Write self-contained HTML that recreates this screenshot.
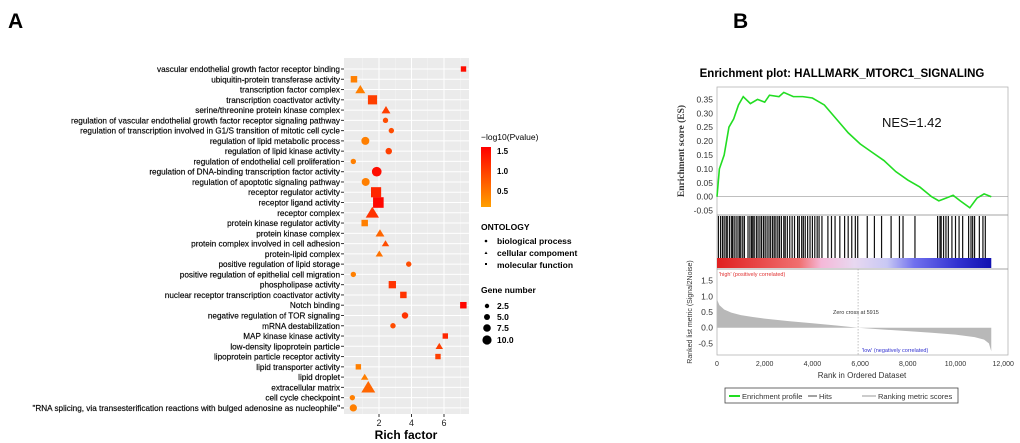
<!DOCTYPE html>
<html><head><meta charset="utf-8"><style>
body{margin:0;background:#fff;}
svg{display:block;font-family:"Liberation Sans",Arial,sans-serif;}
</style></head><body>
<svg id="s" width="1020" height="443" viewBox="0 0 1020 443">
<text x="8" y="28" font-size="21" font-weight="bold">A</text>
<text x="733" y="28" font-size="21" font-weight="bold">B</text>
<g id="A"></g>
<g id="B"></g>
</svg>
<script>
const terms=["vascular endothelial growth factor receptor binding","ubiquitin-protein transferase activity","transcription factor complex","transcription coactivator activity","serine/threonine protein kinase complex","regulation of vascular endothelial growth factor receptor signaling pathway","regulation of transcription involved in G1/S transition of mitotic cell cycle","regulation of lipid metabolic process","regulation of lipid kinase activity","regulation of endothelial cell proliferation","regulation of DNA-binding transcription factor activity","regulation of apoptotic signaling pathway","receptor regulator activity","receptor ligand activity","receptor complex","protein kinase regulator activity","protein kinase complex","protein complex involved in cell adhesion","protein-lipid complex","positive regulation of lipid storage","positive regulation of epithelial cell migration","phospholipase activity","nuclear receptor transcription coactivator activity","Notch binding","negative regulation of TOR signaling","mRNA destabilization","MAP kinase kinase activity","low-density lipoprotein particle","lipoprotein particle receptor activity","lipid transporter activity","lipid droplet","extracellular matrix","cell cycle checkpoint","\"RNA splicing, via transesterification reactions with bulged adenosine as nucleophile\""];
const richFactor=[7.2,0.46,0.85,1.6,2.43,2.4,2.76,1.16,2.6,0.42,1.86,1.18,1.82,1.96,1.59,1.12,2.06,2.4,2.02,3.83,0.42,2.82,3.5,7.19,3.6,2.86,6.08,5.71,5.63,0.73,1.12,1.34,0.36,0.42];
const geneNum=[1,2,3,6,2,1,1,4,2,1,7,4,8,9,7,2,2,1,1,1,1,3,2,2,2,1,1,1,1,1,1,8,1,3];
const logP=[1.4,0.5,0.5,1.0,1.0,0.9,0.9,0.5,1.0,0.5,1.4,0.5,1.2,1.45,1.1,0.5,0.7,0.9,0.6,0.9,0.5,1.1,1.1,1.45,1.1,0.9,1.2,1.0,1.0,0.5,0.5,0.7,0.5,0.5];
const ontology=["m","m","c","m","c","b","b","b","b","b","b","b","m","m","c","m","c","c","c","b","b","m","m","m","b","b","m","c","m","m","c","c","b","b"];
const xTicks=[2,4,6];
const esRank=[0,100,300,500,700,900,1100,1400,1700,2000,2200,2600,2800,3200,3600,4000,4500,5000,5500,6000,6500,7000,7500,8000,8500,9000,9300,9600,9900,10200,10600,10900,11200,11500];
const esVal=[0,0.1,0.15,0.25,0.28,0.33,0.36,0.335,0.35,0.34,0.365,0.36,0.375,0.36,0.36,0.355,0.33,0.28,0.23,0.19,0.16,0.13,0.09,0.06,0.035,0.0,-0.015,-0.005,0.005,-0.015,-0.04,-0.005,0.01,0];
const hits=[60,150,230,300,380,430,520,600,650,720,800,880,950,1000,1080,1150,1300,1380,1450,1500,1560,1650,1720,1800,1870,1950,2020,2100,2180,2250,2330,2400,2470,2550,2620,2700,2800,2860,2950,3050,3150,3250,3380,3450,3550,3620,3700,3800,3900,4000,4100,4200,4280,4400,4650,4800,4950,5150,5350,5500,5650,5800,5900,6300,6600,6900,7300,7650,7800,8300,9250,9350,9400,9500,9600,9700,9850,10000,10150,10300,10550,10650,10720,10800,11000,11150,11250];
const metricRank=[0,100,300,600,1000,1500,2000,3000,4000,5000,5915,7000,8000,9000,10000,10800,11200,11400,11500];
const metricVal=[0.9,0.72,0.58,0.48,0.4,0.34,0.29,0.21,0.14,0.07,0,-0.06,-0.11,-0.16,-0.22,-0.3,-0.38,-0.5,-0.75];
const esTicks=[0.35,0.30,0.25,0.20,0.15,0.10,0.05,0.00,-0.05];
const mTicks=[1.5,1.0,0.5,0.0,-0.5];
const rTicks=[0,2000,4000,6000,8000,10000,12000];

const NS="http://www.w3.org/2000/svg";
function mk(p,t,a,txt){const e=document.createElementNS(NS,t);for(const k in a)e.setAttribute(k,a[k]);if(txt!==undefined)e.textContent=txt;p.appendChild(e);return e;}
const A=document.getElementById('A');
const px0=344,px1=469,py0=58,py1=414;
const X=v=>346.5+v*16.25, Y=i=>69+i*10.27;
const col=v=>{const t=Math.max(0,Math.min(1,(v-0.2)/1.3));const g=Math.round(165*(1-t));return `rgb(255,${g},0)`;};
const R=n=>1.4+Math.sqrt(n)*1.3;
let bg=mk(A,'rect',{x:px0,y:py0,width:px1-px0,height:py1-py0,fill:'#ebebeb'});

[1,3,5,7].forEach(v=>mk(A,'line',{x1:X(v),x2:X(v),y1:py0,y2:py1,stroke:'#f5f5f5','stroke-width':0.5}));
xTicks.forEach(v=>{mk(A,'line',{x1:X(v),x2:X(v),y1:py0,y2:py1,stroke:'#fff','stroke-width':1});
 mk(A,'line',{x1:X(v),x2:X(v),y1:py1,y2:py1+3,stroke:'#333'});
 const t=mk(A,'text',{x:X(v),y:py1+12,'font-size':9,'text-anchor':'middle',fill:'#222'},v);
 });
terms.forEach((s,i)=>{mk(A,'line',{x1:px0,x2:px1,y1:Y(i),y2:Y(i),stroke:'#fff','stroke-width':1});
 mk(A,'line',{x1:px0-3,x2:px0,y1:Y(i),y2:Y(i),stroke:'#333'});
 const t=mk(A,'text',{x:px0-4,y:Y(i)+3,'font-size':8.2,'text-anchor':'end',fill:'#000',stroke:'#000','stroke-width':0.15},s);
 });
terms.forEach((s,i)=>{const cx=X(richFactor[i]),cy=Y(i),r=R(geneNum[i]),c=col(logP[i]);let e;
 if(ontology[i]==='b')e=mk(A,'circle',{cx,cy,r,fill:c});
 else if(ontology[i]==='m')e=mk(A,'rect',{x:cx-r,y:cy-r,width:2*r,height:2*r,fill:c});
 else{const h=r*1.25;e=mk(A,'polygon',{points:`${cx},${cy-h} ${cx-h*1.1},${cy+h*0.8} ${cx+h*1.1},${cy+h*0.8}`,fill:c});}
 });
let xt=mk(A,'text',{x:406,y:439,'font-size':12,'font-weight':'bold','text-anchor':'middle'},'Rich factor');

const defs=mk(A,'defs',{});const lg=mk(defs,'linearGradient',{id:'pg',x1:0,y1:0,x2:0,y2:1});
mk(lg,'stop',{offset:0,'stop-color':'#ff0000'});mk(lg,'stop',{offset:1,'stop-color':'#ffa000'});
let l1=mk(A,'g',{});
mk(l1,'text',{x:481,y:140,'font-size':8.5},'−log10(Pvalue)');
mk(l1,'rect',{x:481,y:147,width:10,height:60,fill:'url(#pg)'});
[['1.5',151],['1.0',171],['0.5',191]].forEach(a=>mk(l1,'text',{x:497,y:a[1]+3,'font-size':8,'font-weight':'bold'},a[0]));
let l2=mk(A,'g',{});
mk(l2,'text',{x:481,y:230,'font-size':8.5,'font-weight':'bold'},'ONTOLOGY');
mk(l2,'circle',{cx:486,cy:241,r:1.3,fill:'#000'});
mk(l2,'polygon',{points:'486,251.5 484.5,254 487.5,254',fill:'#000'});
mk(l2,'rect',{x:485,y:263,width:2,height:2,fill:'#000'});
[['biological process',244],['cellular compoment',256],['molecular function',268]].forEach(a=>mk(l2,'text',{x:497,y:a[1],'font-size':8.5,'font-weight':'bold'},a[0]));
let l3=mk(A,'g',{});
mk(l3,'text',{x:481,y:293,'font-size':8.5,'font-weight':'bold'},'Gene number');
[[2.5,306,2.2],[5.0,317,3],[7.5,328,3.8],[10.0,340,4.6]].forEach(a=>{mk(l3,'circle',{cx:487,cy:a[1],r:a[2],fill:'#000'});mk(l3,'text',{x:497,y:a[1]+3,'font-size':8.5,'font-weight':'bold'},a[0].toFixed(1));});
const B=document.getElementById('B');
const bx0=717,bx1=1008;
const RX=r=>717+r/2000*47.7;
const EY=v=>196.7-v/0.05*13.9;
const MY=v=>327.7-v/0.5*15.7;
let tt=mk(B,'text',{x:842,y:77,'font-size':11.5,'font-weight':'bold','text-anchor':'middle'},'Enrichment plot: HALLMARK_MTORC1_SIGNALING');

mk(B,'rect',{x:bx0,y:87,width:bx1-bx0,height:268,fill:'#fff',stroke:'#aaa','stroke-width':0.7});
mk(B,'line',{x1:bx0,x2:bx1,y1:215,y2:215,stroke:'#888','stroke-width':0.7});
mk(B,'line',{x1:bx0,x2:bx1,y1:269,y2:269,stroke:'#888','stroke-width':0.7});
mk(B,'line',{x1:bx0,x2:bx1,y1:EY(0),y2:EY(0),stroke:'#999','stroke-width':0.7});
esTicks.forEach(v=>{const t=mk(B,'text',{x:713,y:EY(v)+3,'font-size':8.5,'text-anchor':'end',fill:'#333'},v.toFixed(2));});
let pts=esRank.map((r,i)=>RX(r)+','+EY(esVal[i])).join(' ');
let es=mk(B,'polyline',{points:pts,fill:'none',stroke:'#22dd22','stroke-width':1.6});

hits.forEach(h=>{const l=mk(B,'line',{x1:RX(h),x2:RX(h),y1:216,y2:258,stroke:'#111','stroke-width':1.2});});
const bg2=mk(lg.parentNode,'linearGradient',{id:'cb',x1:0,y1:0,x2:1,y2:0});
[[0,'#e02020'],[0.3,'#f07070'],[0.38,'#f5b8d8'],[0.5,'#e8d8f0'],[0.62,'#c8c8f4'],[0.72,'#7070ee'],[0.88,'#3030d0'],[1,'#1010b0']].forEach(a=>mk(bg2,'stop',{offset:a[0],'stop-color':a[1]}));
let cb=mk(B,'rect',{x:RX(0),y:258,width:RX(11500)-RX(0),height:10,fill:'url(#cb)'});

mk(B,'text',{x:719,y:276,'font-size':5.5,fill:'#e03030'},"'high' (positively correlated)");
mk(B,'text',{x:862,y:352,'font-size':5.5,fill:'#3030d0'},"'low' (negatively correlated)");
let mp='M'+RX(0)+','+MY(0)+' '+metricRank.map((r,i)=>'L'+RX(r)+','+MY(metricVal[i])).join(' ')+' L'+RX(11500)+','+MY(0)+'Z';
let ma=mk(B,'path',{d:mp,fill:'#b8b8b8'});
mk(B,'line',{x1:RX(5915),x2:RX(5915),y1:269,y2:355,stroke:'#999','stroke-dasharray':'1.5,1.5','stroke-width':0.6});
mk(B,'text',{x:833,y:314,'font-size':5.5,fill:'#333'},'Zero cross at 5915');
mTicks.forEach(v=>{const t=mk(B,'text',{x:713,y:MY(v)+3,'font-size':8.5,'text-anchor':'end',fill:'#333'},v.toFixed(1));});
rTicks.forEach(v=>{const t=mk(B,'text',{x:RX(v),y:366,'font-size':7,'text-anchor':'middle',fill:'#333'},v.toLocaleString('en-US'));});
mk(B,'text',{x:862,y:378,'font-size':8,'text-anchor':'middle',fill:'#333'},'Rank in Ordered Dataset');
let yl=mk(B,'text',{transform:'translate(684,151) rotate(-90)','font-size':9.5,'font-weight':'bold','text-anchor':'middle',fill:'#333','font-family':'Liberation Serif,serif'},'Enrichment score (ES)');

mk(B,'text',{transform:'translate(692,312) rotate(-90)','font-size':7,'text-anchor':'middle',fill:'#333'},'Ranked list metric (Signal2Noise)');
let lb=mk(B,'g',{});
mk(lb,'rect',{x:725,y:388,width:233,height:15,fill:'#fff',stroke:'#444','stroke-width':0.8});
mk(lb,'line',{x1:729,x2:740,y1:396,y2:396,stroke:'#22dd22','stroke-width':2});
mk(lb,'text',{x:742,y:399,'font-size':7.5,fill:'#333'},'Enrichment profile');
mk(lb,'line',{x1:808,x2:817,y1:396,y2:396,stroke:'#444','stroke-width':1});
mk(lb,'text',{x:819,y:399,'font-size':7.5,fill:'#333'},'Hits');
mk(lb,'line',{x1:862,x2:876,y1:396,y2:396,stroke:'#ccc','stroke-width':2});
mk(lb,'text',{x:878,y:399,'font-size':7.5,fill:'#333'},'Ranking metric scores');
let nes=mk(B,'text',{x:882,y:127,'font-size':13,fill:'#111'},'NES=1.42');

</script>
</body></html>
